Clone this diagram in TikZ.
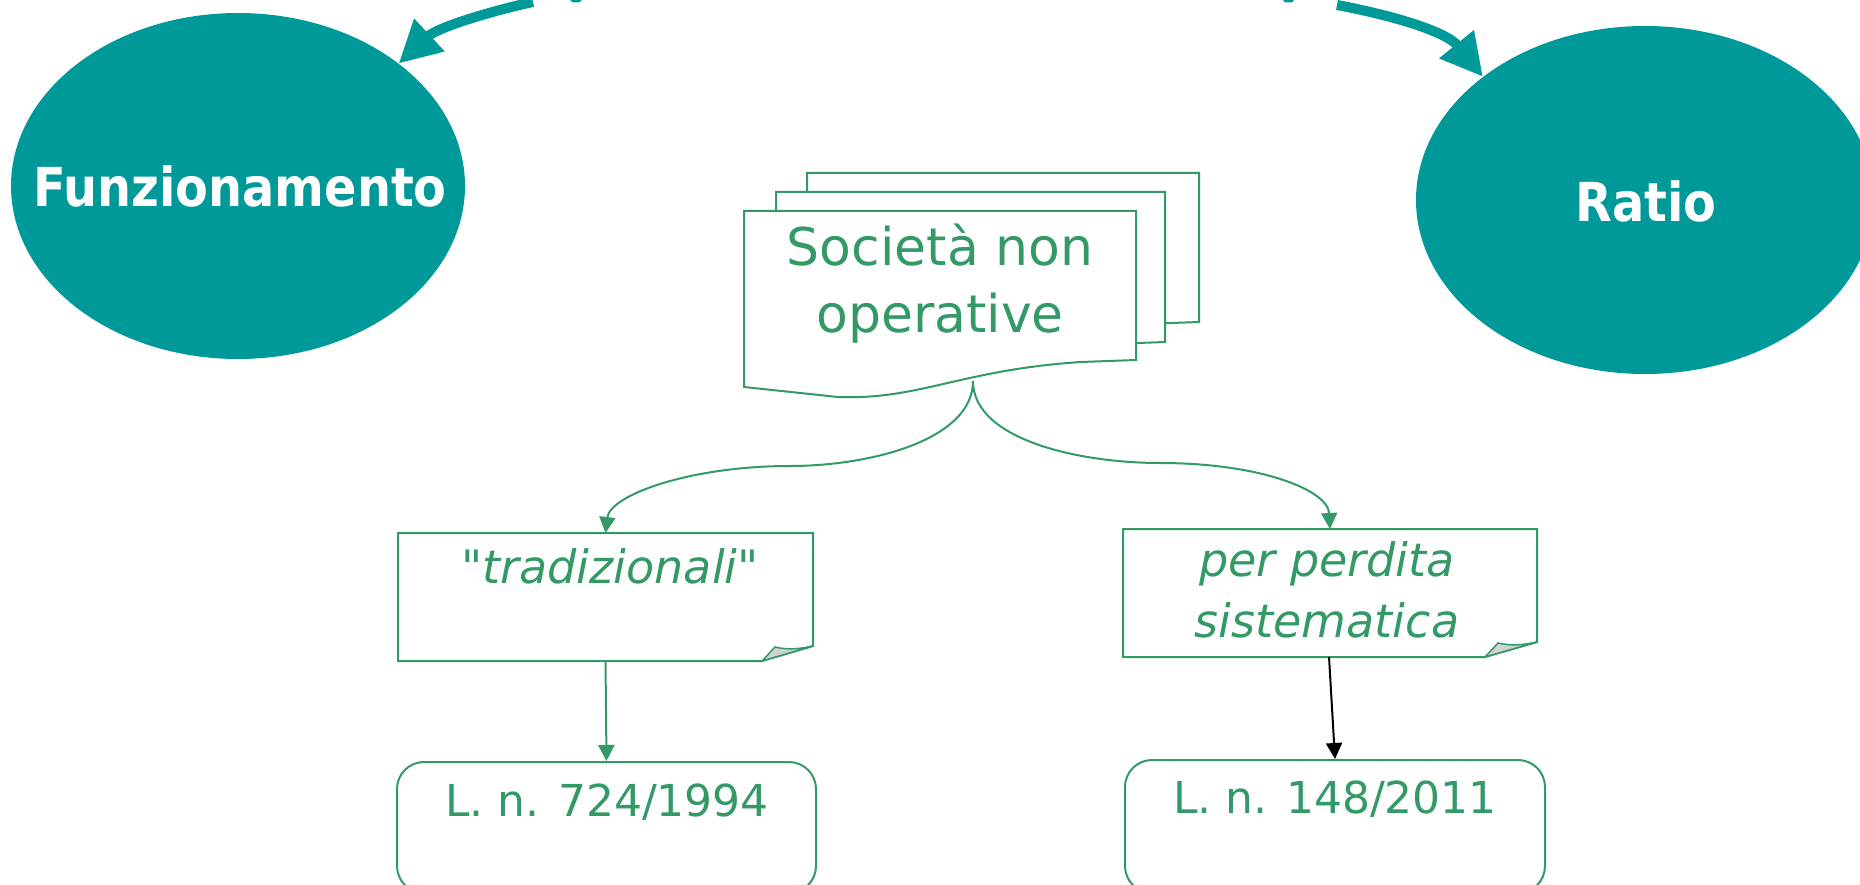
\documentclass[tikz,border=0pt]{standalone}
\usepackage{fontspec}
\setmainfont{DejaVu Sans}[Ligatures=TeXOff]
\newfontfamily\ellfont[FakeStretch=0.89]{DejaVu Sans}
\usetikzlibrary{shapes.geometric,arrows.meta}
\definecolor{teal0}{RGB}{0,153,153}
\definecolor{grn}{RGB}{51,153,102}
\definecolor{flapgray}{RGB}{210,210,210}
\begin{document}
\begin{tikzpicture}[x=1pt,y=-1pt,
  bigell/.style={ellipse, fill=teal0, draw=none, inner sep=0pt},
  elltext/.style={anchor=base, text=white, inner sep=0pt, font=\ellfont\bfseries\fontsize{53.7}{60}\selectfont},
  bigarrow/.style={draw=teal0, line width=10pt, -{Triangle[length=42pt,width=42pt]}},
  docshape/.style={draw=grn, line width=2pt, fill=white},
  notebox/.style={draw=grn, line width=2pt, fill=white},
  flap/.style={draw=grn, line width=1.5pt, fill=flapgray},
  lawbox/.style={draw=grn, line width=2pt, rounded corners=27pt, inner sep=0pt},
  holder/.style={inner sep=0pt, outer sep=0pt, draw=none},
  conn/.style={draw=grn, line width=2pt, -{Triangle[length=16pt,width=16pt]}},
  connblack/.style={draw=black, line width=2pt, -{Triangle[length=16pt,width=16pt]}},
  gtext/.style={text=grn, inner sep=0pt}
]
\clip (0,0) rectangle (1860,885);

% ellipses
\node[bigell, minimum width=454pt, minimum height=346pt] (funz) at (238,186) {};
\node[elltext] (funztxt) at (240,207) {Funzionamento};
\node[bigell, minimum width=458pt, minimum height=348pt] (ratio) at (1645,200) {};
\node[elltext] (ratiotxt) at (1646,222) {Ratio};

% big arrows from the top
\coordinate (a1s) at (533,2);
\coordinate (a2s) at (1337,5);
\draw[bigarrow] (a1s) .. controls (495,10) and (438,27) .. (funz.north east);
\draw[bigarrow] (a2s) .. controls (1385,14) and (1445,30) .. (ratio.north west);
% tiny cut-off pieces at the top edge
\fill[teal0] (570,0) -- (582,0) -- (579,2.5) -- (573,2.5) -- cycle;
\fill[teal0] (1283,0) -- (1294,0) -- (1292,2.5) -- (1285,2.5) -- cycle;

% document stack
\draw[docshape] (807,173) -- (1199,173) -- (1199,322) -- (1144,324) .. controls (1023,332) and (983,362) .. (901,359) -- (807,349) -- cycle;
\draw[docshape] (776,192) -- (1165,192) -- (1165,342) -- (1111,344) .. controls (990,352) and (951,382) .. (869,379) -- (776,369) -- cycle;
\draw[docshape] (744,211) -- (1136,211) -- (1136,360) -- (1081,362) .. controls (960,370) and (920,400) .. (838,397) -- (744,387) -- cycle;
\node[gtext, align=center, font=\fontsize{52}{67}\selectfont] (soc) at (940,284) {Società non\\operative};
\coordinate (socB) at (973,381);

% note boxes
\node[holder, minimum width=415pt, minimum height=128pt] (trad) at (605.5,597) {};
\draw[notebox] (trad.north west) -- (trad.north east) -- ([yshift=15pt]trad.south east) -- ([xshift=-51pt]trad.south east) -- (trad.south west) -- cycle;
\draw[flap] ([xshift=-51pt]trad.south east) -- ([xshift=-38pt,yshift=14pt]trad.south east) .. controls ([xshift=-26pt,yshift=11pt]trad.south east) and ([xshift=-13pt,yshift=12pt]trad.south east) .. ([yshift=15pt]trad.south east) -- cycle;
\node[gtext, anchor=base, font=\itshape\fontsize{46}{61}\selectfont] (tradtxt) at (610,583) {"tradizionali"};

\node[holder, minimum width=414pt, minimum height=128pt] (perd) at (1330,593) {};
\draw[notebox] (perd.north west) -- (perd.north east) -- ([yshift=15pt]perd.south east) -- ([xshift=-52pt]perd.south east) -- (perd.south west) -- cycle;
\draw[flap] ([xshift=-52pt]perd.south east) -- ([xshift=-39pt,yshift=14pt]perd.south east) .. controls ([xshift=-27pt,yshift=11pt]perd.south east) and ([xshift=-13pt,yshift=12pt]perd.south east) .. ([yshift=15pt]perd.south east) -- cycle;
\node[gtext, align=center, font=\itshape\fontsize{46}{61}\selectfont] (perdtxt) at (1327,590) {per perdita\\sistematica};

% law boxes
\node[lawbox, minimum width=419pt, minimum height=131pt] (law1) at (606.5,827.5) {};
\node[gtext, anchor=base, font=\fontsize{44}{50}\selectfont] (law1txt) at (607,816) {L. n. 724/1994};
\node[lawbox, minimum width=420pt, minimum height=133pt] (law2) at (1335,826.5) {};
\node[gtext, anchor=base, font=\fontsize{44}{50}\selectfont] (law2txt) at (1335,813) {L. n. 148/2011};

% connectors
\draw[conn] (socB) .. controls (973,440) and (870,466) .. (790,466) .. controls (690,466) and (610,495) .. (trad.north);
\draw[conn] (socB) .. controls (973,440) and (1080,463) .. (1160,463) .. controls (1260,463) and (1328,490) .. (perd.north);
\draw[conn] (trad.south) -- (law1.north);
\draw[connblack] ([xshift=-1pt]perd.south) -- (law2.north);
\end{tikzpicture}
\end{document}
